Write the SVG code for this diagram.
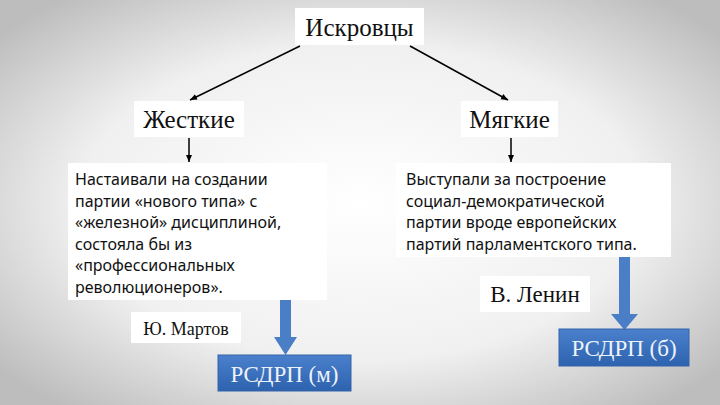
<svg xmlns="http://www.w3.org/2000/svg" width="720" height="405" viewBox="0 0 720 405">
<defs>
<radialGradient id="bg" cx="50%" cy="50%" r="65%">
<stop offset="0" stop-color="#ffffff"/><stop offset="0.6" stop-color="#f0f0f0"/><stop offset="1" stop-color="#bdbdbd"/>
</radialGradient>
<linearGradient id="blue" x1="0" y1="0" x2="0" y2="1"><stop offset="0" stop-color="#4a80cc"/><stop offset="1" stop-color="#2d62ae"/></linearGradient>
<marker id="ah" markerWidth="8" markerHeight="8" refX="7" refY="4" orient="auto" markerUnits="userSpaceOnUse"><path d="M0,1 L7,4 L0,7 Z" fill="#000"/></marker>
</defs>
<style>
.box{fill:#fff}
.h{font-family:"Liberation Serif",serif;font-size:25px;fill:#111}
.t{font-family:"Noto Sans","DejaVu Sans",sans-serif;font-size:16px;fill:#111}
.bt{font-family:"Liberation Serif",serif;font-size:23px;fill:#eef3fb}
.ln{stroke:#000;stroke-width:1.5;fill:none;marker-end:url(#ah)}
.bb{fill:url(#blue);stroke:#3565aa}
.ba{fill:#4a7ec6}
</style>
<rect width="720" height="405" fill="url(#bg)"/>
<g id="connectors">
<line class="ln" x1="300" y1="46" x2="190" y2="100"/>
<line class="ln" x1="410" y1="46" x2="508" y2="100"/>
<line class="ln" x1="189" y1="138" x2="189" y2="162"/>
<line class="ln" x1="511" y1="138" x2="511" y2="162"/>
<path class="ba" d="M280,300 H291 V337 H297 L285.5,355 L274,337 H280 Z"/>
<path class="ba" d="M619,257 H630 V314 H638 L624.5,330 L611,314 H619 Z"/>
</g>
<g id="iskrovtsy"><rect class="box" x="295" y="8" width="129" height="37"/><text class="h" x="359.5" y="36" text-anchor="middle">Искровцы</text></g>
<g id="zhestkie"><rect class="box" x="134" y="101" width="110" height="36"/><text class="h" x="189" y="128" text-anchor="middle">Жесткие</text></g>
<g id="myagkie"><rect class="box" x="461" y="101" width="97" height="36"/><text class="h" x="509.5" y="128" text-anchor="middle">Мягкие</text></g>
<g id="left-text"><rect class="box" x="68" y="163" width="259" height="137"/>
<text class="t" x="75"><tspan x="75" y="185">Настаивали на создании</tspan><tspan x="75" y="206.5">партии «нового типа» с</tspan><tspan x="75" y="228">«железной» дисциплиной,</tspan><tspan x="75" y="249.5">состояла бы из</tspan><tspan x="75" y="271">«профессиональных</tspan><tspan x="75" y="292.5">революционеров».</tspan></text></g>
<g id="right-text"><rect class="box" x="396" y="163" width="275" height="94"/>
<text class="t" x="406"><tspan x="406" y="185">Выступали за построение</tspan><tspan x="406" y="206.5">социал-демократической</tspan><tspan x="406" y="228">партии вроде европейских</tspan><tspan x="406" y="249.5">партий парламентского типа.</tspan></text></g>
<g id="martov"><rect class="box" x="131" y="312" width="110" height="31"/><text class="h" x="186" y="335" text-anchor="middle" style="font-size:18px">Ю. Мартов</text></g>
<g id="lenin"><rect class="box" x="480" y="276" width="110" height="36"/><text class="h" x="535" y="302" text-anchor="middle" style="font-size:23px">В. Ленин</text></g>
<g id="rsdrp-m"><rect class="bb" x="218" y="355" width="133" height="36"/><text class="bt" x="284.5" y="382" text-anchor="middle">РСДРП (м)</text></g>
<g id="rsdrp-b"><rect class="bb" x="559" y="329" width="130" height="37"/><text class="bt" x="624" y="356" text-anchor="middle">РСДРП (б)</text></g>
</svg>
